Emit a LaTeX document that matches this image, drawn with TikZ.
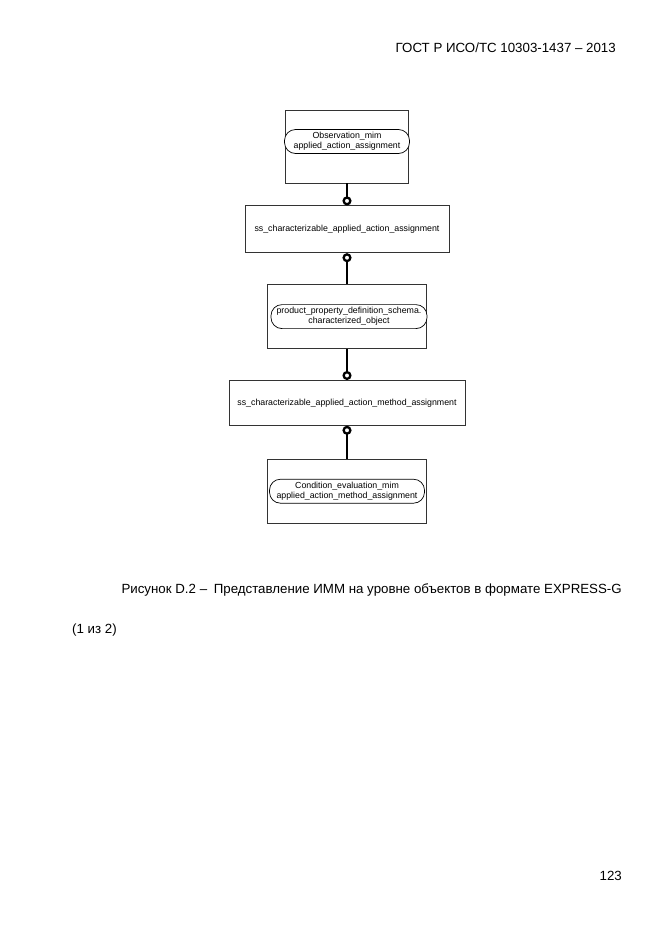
\documentclass[tikz,border=0pt]{standalone}
\usepackage{fontspec}
\setmainfont{Liberation Sans}
\usetikzlibrary{arrows.meta,positioning}

\begin{document}
\begin{tikzpicture}[
    x=1pt, y=-1pt,
    % Entities
    entbox/.style={rectangle, draw=black!80, line width=0.8pt, minimum width=#1, inner sep=0pt, font=\fontsize{8.8}{10}\selectfont, align=center},
    entbox/.default=159pt,
    % Schema references
    schemaref/.style={rectangle, rounded corners=11pt, draw=black, line width=0.7pt, fill=white, minimum height=24pt, inner sep=0pt, font=\fontsize{8.8}{10}\selectfont, align=center},
    % Relationships
    link/.style={-{Circle[open, length=9pt, width=9pt]}, line width=2.3pt, black},
    % Page texts
    pagetext/.style={font=\fontsize{13.3}{15}\selectfont, inner sep=0pt}
]
\useasboundingbox (0,0) rectangle (661,935);

% Header
\node[pagetext, anchor=base east] (header) at (616,52) {ГОСТ Р ИСО/ТС 10303-1437 – 2013};

% Nodes
\node[entbox=123pt, minimum height=73pt] (obs) at (347,146.5) {};
\node[entbox=204pt, minimum height=47pt, below=22pt of obs] (ccaa) {ss\_characterizable\_applied\_action\_assignment};
\node[entbox=159pt, minimum height=64pt, below=31pt of ccaa] (ppd) {};
\node[entbox=236pt, minimum height=45pt, below=31pt of ppd] (ccama) {ss\_characterizable\_applied\_action\_method\_assignment};
\node[entbox=159pt, minimum height=64pt, below=33pt of ccama] (cond) {};

% Schema references inside
\node[schemaref, minimum width=125pt] (obs_ref) at ([yshift=5pt]obs.center) {Observation\_mim\\applied\_action\_assignment};
\node[schemaref, minimum width=156pt] (ppd_ref) at ([xshift=2pt]ppd.center) {product\_property\_definition\_schema.\\characterized\_object};
\node[schemaref, minimum width=155pt] (cond_ref) at (cond.center) {Condition\_evaluation\_mim\\applied\_action\_method\_assignment};

% Relationships connecting Nodes
\draw[link] (obs.south) -- (ccaa.north);
\draw[link] (ppd.north) -- (ccaa.south);
\draw[link] (ppd.south) -- (ccama.north);
\draw[link] (cond.north) -- (ccama.south);

% Caption
\node[pagetext, anchor=base east] (caption) at (622,593) {Рисунок D.2 –\enspace Представление ИММ на уровне объектов в формате EXPRESS-G};
\node[pagetext, anchor=base west] (part) at (72,633) {(1 из 2)};

% Page number
\node[pagetext, anchor=base east] (pagenum) at (622,880) {123};

\end{tikzpicture}
\end{document}
